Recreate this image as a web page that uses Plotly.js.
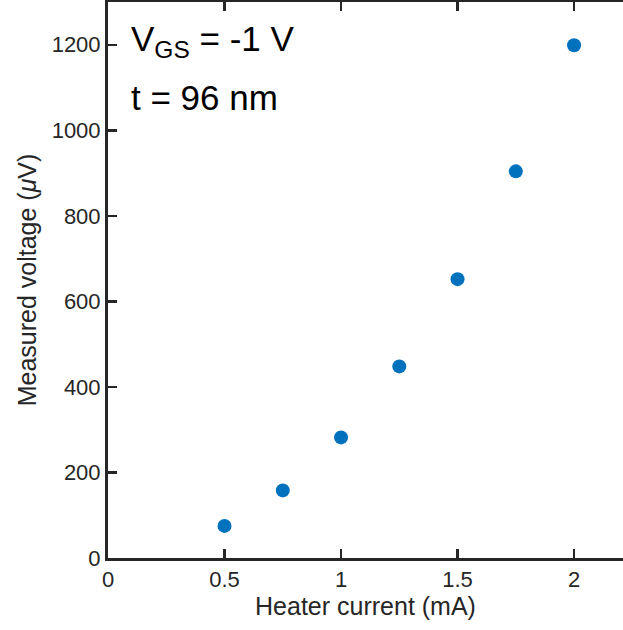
<!DOCTYPE html>
<html>
<head>
<meta charset="utf-8">
<script src="https://cdn.plot.ly/plotly-3.0.1.min.js"></script>
<style>html,body{margin:0;padding:0;overflow:hidden;background:#fff;}</style>
</head>
<body>
<div id="chart" style="width:623px;height:630px;"></div>
<script>
const heaterCurrent = [0.5, 0.75, 1, 1.25, 1.5, 1.75, 2];
const measuredVoltage = [75, 158, 282, 448, 652, 904, 1199];
const xTicks = [0, 0.5, 1, 1.5, 2];
const xTickLabels = ['0', '0.5', '1', '1.5', '2'];
const yTicks = [0, 200, 400, 600, 800, 1000, 1200];
const yTickLabels = ['0', '200', '400', '600', '800', '1000', '1200'];

const axisColor = '#262626';
const fontFam = 'Liberation Sans, Arial, Helvetica, sans-serif';

Plotly.newPlot('chart', [{
  x: heaterCurrent,
  y: measuredVoltage,
  type: 'scatter',
  mode: 'markers',
  marker: {color: '#0072BD', size: 14},
  showlegend: false
}], {
  width: 623, height: 630,
  margin: {l: 108, r: 0, t: 2, b: 72},
  paper_bgcolor: '#fff', plot_bgcolor: '#fff',
  font: {family: fontFam, color: axisColor},
  xaxis: {
    range: [0, 2.21],
    tickvals: xTicks, ticktext: xTickLabels,
    ticks: 'inside', ticklen: 9, tickwidth: 2.5, tickcolor: axisColor,
    showline: true, linewidth: 3, linecolor: axisColor, mirror: 'ticks',
    showgrid: false, zeroline: false,
    tickfont: {size: 22, color: axisColor},
    title: {text: 'Heater current (mA)', font: {size: 25, color: axisColor}, standoff: 6}
  },
  yaxis: {
    range: [0, 1300],
    tickvals: yTicks, ticktext: yTickLabels,
    ticks: 'inside', ticklen: 9, tickwidth: 2.5, tickcolor: axisColor,
    showline: true, linewidth: 3, linecolor: axisColor, mirror: false,
    showgrid: false, zeroline: false,
    tickfont: {size: 22, color: axisColor},
    title: {text: 'Measured voltage (<i>μ</i>V)', font: {size: 25, color: axisColor}, standoff: 8}
  },
  annotations: [
    {xref: 'paper', yref: 'paper', x: 0.04, y: 0.929, xanchor: 'left', yanchor: 'middle',
     text: 'V<sub>GS</sub> = -1 V', showarrow: false, font: {size: 35, color: '#000'}},
    {xref: 'paper', yref: 'paper', x: 0.04, y: 0.828, xanchor: 'left', yanchor: 'middle',
     text: 't = 96 nm', showarrow: false, font: {size: 35, color: '#000'}}
  ]
}, {displayModeBar: false, staticPlot: true});
</script>
</body>
</html>
